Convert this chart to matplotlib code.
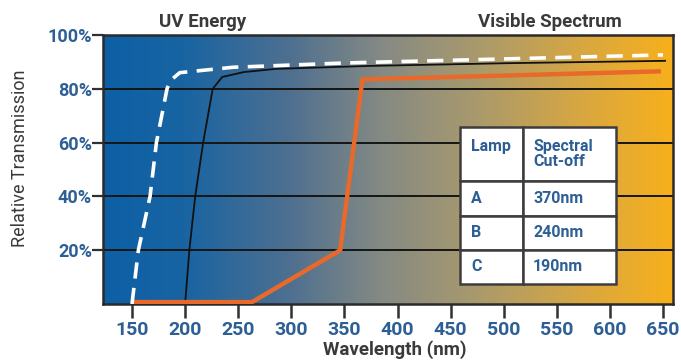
import numpy as np
import matplotlib.pyplot as plt
from matplotlib.colors import LinearSegmentedColormap

# lamp curves (wavelength nm, transmission %)
c_wl = [150, 156, 167, 173, 183, 186, 195, 245, 350, 450, 550, 650]
c_tr = [0, 20, 40, 60, 80, 83, 86, 88, 89.6, 90.6, 91.6, 92.6]
b_wl = [200, 204, 209.5, 217, 226, 235, 255, 285, 373, 500, 652]
b_tr = [0, 20, 40, 60, 80, 84.4, 86.2, 87.4, 88.5, 89.5, 90.4]
a_wl = [150, 263, 346, 367, 648]
a_tr = [0.7, 0.7, 20, 83.5, 86.5]

xticks = [150, 200, 250, 300, 350, 400, 450, 500, 550, 600, 650]
yticks = [20, 40, 60, 80, 100]
ytick_labels = ['20%', '40%', '60%', '80%', '100%']

table_head = ['Lamp', 'Spectral\nCut-off']
table_rows = [['A', '370nm'], ['B', '240nm'], ['C', '190nm']]

txt_blue = '#2d5f95'
txt_grey = '#3a3a3a'
font = dict(family='Roboto')

fig = plt.figure(figsize=(6.81, 3.60), dpi=100)
ax = fig.add_axes([103/681, 56/360, 570/681, 269/360])

xlim = (122.7, 659.4)
cmap = LinearSegmentedColormap.from_list('spec', [
    (0.0, '#0d60a6'), (0.14, '#1864a2'), (0.33, '#4f7090'),
    (0.49, '#858a84'), (0.66, '#aa9a6c'), (0.84, '#d8a742'), (1.0, '#f7b01c')])
grad = np.linspace(0, 1, 512).reshape(1, -1)
ax.imshow(grad, cmap=cmap, aspect='auto', extent=(xlim[0], xlim[1], 0, 100), zorder=0)

for y in yticks[:-1]:
    ax.axhline(y, color='#151515', lw=1.4, zorder=1)

ax.plot(b_wl, b_tr, color='#111111', lw=1.3, zorder=3)
ax.plot(a_wl, a_tr, color='#e8692a', lw=3.2, solid_capstyle='butt', zorder=4)
ax.plot(c_wl, c_tr, color='white', lw=2.6, dashes=(4.5, 2.6), zorder=5)

ax.set_xlim(*xlim)
ax.set_ylim(0, 100)
ax.set_xticks(xticks)
ax.set_xticklabels([str(v) for v in xticks], color=txt_blue, fontsize=14, fontweight='bold', **font)
ax.set_yticks(yticks)
ax.set_yticklabels(ytick_labels, color=txt_blue, fontsize=13, fontweight='bold', **font)
ax.tick_params(axis='x', length=10, width=1.8, color='#303030', pad=2)
ax.tick_params(axis='y', length=8, width=1.6, color='#303030', pad=0)
for s in ax.spines.values():
    s.set_color('#2a2a2a')
    s.set_linewidth(1.8)

tab = ax.table(cellText=[table_head] + table_rows, cellLoc='left',
               colWidths=[0.404, 0.596], bbox=[0.626, 0.0743, 0.274, 0.584])
tab.auto_set_font_size(False)
for (r, c), cell in tab.get_celld().items():
    cell.set_edgecolor('#3d3d3d')
    cell.set_linewidth(1.8)
    cell.set_facecolor('white')
    cell.set_height(54 if r == 0 else 34)
    cell.PAD = 0.18 if c == 0 else 0.11
    t = cell.get_text()
    t.set_color(txt_blue)
    t.set_fontsize(11.5)
    t.set_fontfamily('Roboto')
    t.set_fontweight('bold')
    t.set_linespacing(1.05)
    if r == 0 and c == 0:
        t.set_text('Lamp\n ')
tab.set_zorder(6)

fig.text(203/681, 1 - 22/360, 'UV Energy', ha='center', va='center',
         color=txt_grey, fontsize=13.5, fontweight='bold', **font)
fig.text(550/681, 1 - 22/360, 'Visible Spectrum', ha='center', va='center',
         color=txt_grey, fontsize=13.5, fontweight='bold', **font)
fig.text(20/681, 1 - 158/360, 'Relative Transmission', rotation=90, ha='center', va='center',
         color=txt_grey, fontsize=13, **font)
fig.text(395/681, 1 - 350/360, 'Wavelength (nm)', ha='center', va='center',
         color=txt_grey, fontsize=13.5, fontweight='bold', **font)

fig.savefig('out.png', dpi=100)
